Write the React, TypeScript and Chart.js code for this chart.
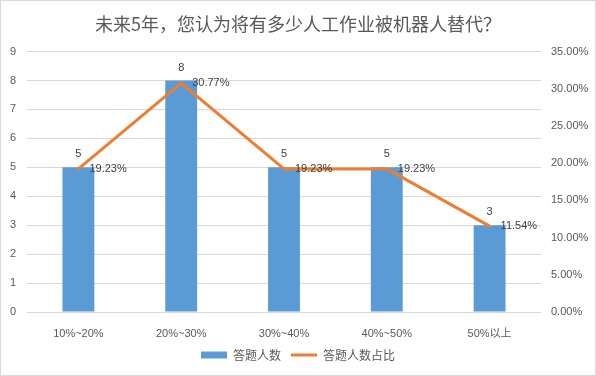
import React, { useEffect, useRef } from 'react';
import { Chart, registerables } from 'chart.js';

Chart.register(...registerables);

const titleText = '未来5年，您认为将有多少人工作业被机器人替代？';
const categories = ['10%~20%', '20%~30%', '30%~40%', '40%~50%', '50%以上'];
const counts = [5, 8, 5, 5, 3];
const shares = [0.1923, 0.3077, 0.1923, 0.1923, 0.1154];
const shareLabels = ['19.23%', '30.77%', '19.23%', '19.23%', '11.54%'];
const seriesNames = ['答题人数', '答题人数占比'];
const leftMax = 9;
const rightMax = 0.35;

const BAR = '#5B9BD5';
const LINE = '#ED7D31';
const TEXT = '#595959';
const GRID = '#D9D9D9';
const FONT = '"Liberation Sans", "Noto Sans CJK SC", sans-serif';
const CJK = '"Noto Sans CJK SC", sans-serif';

const labelPlugin = {
  id: 'valueLabels',
  afterDatasetsDraw(chart: any) {
    const ctx = chart.ctx;
    ctx.save();
    ctx.font = '11px ' + FONT;
    ctx.fillStyle = '#404040';
    ctx.textBaseline = 'middle';
    const barMeta = chart.getDatasetMeta(0);
    barMeta.data.forEach((el: any, i: number) => {
      ctx.textAlign = 'center';
      ctx.fillText(String(counts[i]), el.x, el.y - 13);
    });
    const lineMeta = chart.getDatasetMeta(1);
    lineMeta.data.forEach((el: any, i: number) => {
      ctx.textAlign = 'left';
      ctx.fillText(shareLabels[i], el.x + 11, el.y);
    });
    ctx.restore();
  },
};

export default function App() {
  const ref = useRef<HTMLCanvasElement>(null);
  useEffect(() => {
    document.body.style.margin = '0';
    const chart = new Chart(ref.current as HTMLCanvasElement, {
      type: 'bar',
      data: {
        labels: categories,
        datasets: [
          {
            type: 'bar',
            label: seriesNames[0],
            data: counts,
            backgroundColor: BAR,
            borderWidth: 0,
            yAxisID: 'y',
            barPercentage: 0.31,
            categoryPercentage: 1,
            order: 2,
          },
          {
            type: 'line',
            label: seriesNames[1],
            data: shares,
            borderColor: LINE,
            backgroundColor: LINE,
            borderWidth: 3,
            pointRadius: 0,
            borderJoinStyle: 'round',
            borderCapStyle: 'round',
            tension: 0,
            yAxisID: 'y1',
            order: 1,
          },
        ] as any,
      },
      options: {
        responsive: false,
        animation: false,
        devicePixelRatio: 1,
        layout: { padding: { top: 0, bottom: 4, left: 0, right: 0 } },
        plugins: {
          tooltip: { enabled: false },
          title: {
            display: true,
            text: titleText,
            color: TEXT,
            font: { size: 18, family: CJK, weight: 'normal' as any },
            padding: { top: 12, bottom: 17 },
          },
          legend: {
            display: true,
            position: 'bottom',
            labels: {
              color: TEXT,
              font: { size: 12, family: CJK },
              usePointStyle: true,
              pointStyleWidth: 26,
              boxHeight: 7,
              padding: 10,
              generateLabels: (c: any) =>
                c.data.datasets.map((ds: any, i: number) => ({
                  text: ds.label,
                  fillStyle: i === 0 ? BAR : LINE,
                  strokeStyle: i === 0 ? BAR : LINE,
                  lineWidth: i === 0 ? 0 : 3,
                  pointStyle: i === 0 ? 'rect' : 'line',
                  hidden: false,
                  datasetIndex: i,
                  fontColor: TEXT,
                })),
            },
          },
        },
        scales: {
          x: {
            grid: { display: false },
            border: { display: false },
            ticks: { color: TEXT, font: { size: 11, family: FONT }, padding: 7, maxRotation: 0 },
            afterFit: (s: any) => { s.height = 27; },
          },
          y: {
            position: 'left',
            min: 0,
            max: leftMax,
            grid: { color: GRID, drawTicks: false },
            border: { display: false },
            ticks: { stepSize: 1, color: TEXT, font: { size: 11, family: FONT }, padding: 11 },
            afterFit: (s: any) => { s.width = 26; },
          },
          y1: {
            position: 'right',
            min: 0,
            max: rightMax,
            grid: { display: false, drawTicks: false },
            border: { display: false },
            ticks: {
              stepSize: 0.05,
              color: TEXT,
              font: { size: 11, family: FONT },
              padding: 10,
              callback: (v: any) => (Number(v) * 100).toFixed(2) + '%',
            },
            afterFit: (s: any) => { s.width = 54; },
          },
        },
      } as any,
      plugins: [labelPlugin],
    });
    return () => chart.destroy();
  }, []);
  return (
    <div
      style={{
        position: 'absolute',
        left: 0,
        top: 0,
        width: 596,
        height: 376,
        boxSizing: 'border-box',
        border: '1px solid #D9D9D9',
        background: '#fff',
      }}
    >
      <canvas ref={ref} width={594} height={374} style={{ display: 'block' }} />
    </div>
  );
}
